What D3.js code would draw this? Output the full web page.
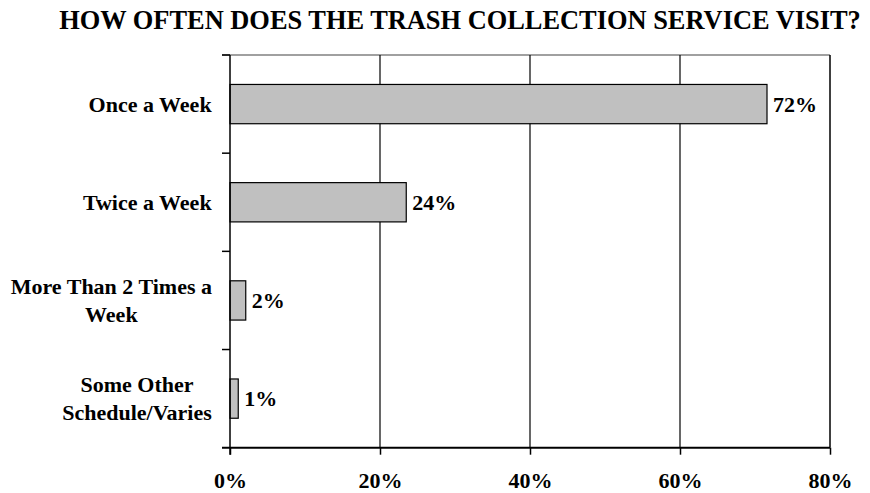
<!DOCTYPE html>
<html>
<head>
<meta charset="utf-8">
<script src="https://cdn.jsdelivr.net/npm/d3@7/dist/d3.min.js"></script>
<style>
  html, body { margin: 0; padding: 0; background: #fff; }
  svg { display: block; }
  text { font-family: "Liberation Serif", "Times New Roman", serif; font-weight: bold; fill: #000; }
</style>
</head>
<body>
<svg id="chart" width="870" height="493"></svg>
<script>
const title = "HOW OFTEN DOES THE TRASH COLLECTION SERVICE VISIT?";
const categories = [
  ["Once a Week"],
  ["Twice a Week"],
  ["More Than 2 Times a", "Week"],
  ["Some Other", "Schedule/Varies"]
];
const values = [71.6, 23.5, 2.1, 1.1];
const xTicks = [0, 20, 40, 60, 80];

const W = 870, H = 493;
const m = { left: 230, right: 40, top: 55, bottom: 45.3 };
const svg = d3.select("#chart");

const x = d3.scaleLinear().domain([0, 80]).range([m.left, W - m.right]);
const y = d3.scaleBand().domain(d3.range(categories.length))
  .range([m.top, H - m.bottom]).paddingInner(0.6).paddingOuter(0.3);

const x0 = x.range()[0], x1 = x.range()[1];
const y0 = y.range()[0], y1 = y.range()[1];

// Title
svg.append("text")
  .attr("x", 460).attr("y", 29.3)
  .attr("text-anchor", "middle")
  .style("font-size", "26.4px")
  .text(title);

// Top border (gray)
svg.append("line").attr("x1", x0 - 8).attr("x2", x1).attr("y1", y0).attr("y2", y0)
  .attr("stroke", "#808080").attr("stroke-width", 1.5);
// Right border
svg.append("line").attr("x1", x1).attr("x2", x1).attr("y1", y0).attr("y2", y1)
  .attr("stroke", "#000").attr("stroke-width", 1.5);

// Gridlines
svg.append("g").selectAll("line").data(xTicks.filter(t => t > 0 && t < 80)).join("line")
  .attr("x1", d => x(d)).attr("x2", d => x(d))
  .attr("y1", y0).attr("y2", y1)
  .attr("stroke", "#000").attr("stroke-width", 1.2);

// Bars
svg.append("g").selectAll("rect").data(values).join("rect")
  .attr("x", x(0))
  .attr("y", (d, i) => y(i))
  .attr("width", d => x(d) - x(0))
  .attr("height", y.bandwidth())
  .attr("fill", "#c0c0c0")
  .attr("stroke", "#000").attr("stroke-width", 1.2);

// Value labels
svg.append("g").selectAll("text").data(values).join("text")
  .attr("x", d => x(d) + 6)
  .attr("y", (d, i) => y(i) + y.bandwidth() / 2 + 7.5)
  .style("font-size", "22px")
  .text(d => Math.round(d) + "%");

// X axis
const xAxis = d3.axisBottom(x).tickValues(xTicks).tickFormat(d => d + "%")
  .tickSize(7).tickPadding(17.5).tickSizeOuter(0);
const gx = svg.append("g").attr("transform", `translate(0,${y1})`).call(xAxis);
gx.select(".domain").remove();
gx.selectAll(".tick line").attr("stroke", "#000").attr("stroke-width", 1.5);
gx.selectAll(".tick text").style("font-size", "22px")
  .style("font-family", "'Liberation Serif', 'Times New Roman', serif").style("font-weight", "bold");
svg.append("line").attr("x1", x0 - 8).attr("x2", x1).attr("y1", y1).attr("y2", y1)
  .attr("stroke", "#000").attr("stroke-width", 2);

// Y axis line + boundary ticks
svg.append("line").attr("x1", x0).attr("x2", x0).attr("y1", y0).attr("y2", y1 + 7)
  .attr("stroke", "#000").attr("stroke-width", 1.5);
const bounds = d3.range(categories.length).map(i => y0 + i * y.step());
svg.append("g").selectAll("line").data(bounds).join("line")
  .attr("x1", x0 - 8).attr("x2", x0).attr("y1", d => d).attr("y2", d => d)
  .attr("stroke", "#000").attr("stroke-width", 1.5);

// Category labels
const labelRight = 212, lineH = 28.5;
categories.forEach((lines, i) => {
  const cy = y(i) + y.bandwidth() / 2;
  const g = svg.append("g");
  const t = g.append("text").style("font-size", "22px").attr("text-anchor", "middle");
  lines.forEach((s, k) => {
    t.append("tspan").attr("x", 0)
      .attr("y", cy + 7.5 + (k - (lines.length - 1) / 2) * lineH)
      .text(s);
  });
  const w = t.node().getBBox().width;
  t.attr("transform", `translate(${labelRight - w / 2},0)`);
});
</script>
</body>
</html>
